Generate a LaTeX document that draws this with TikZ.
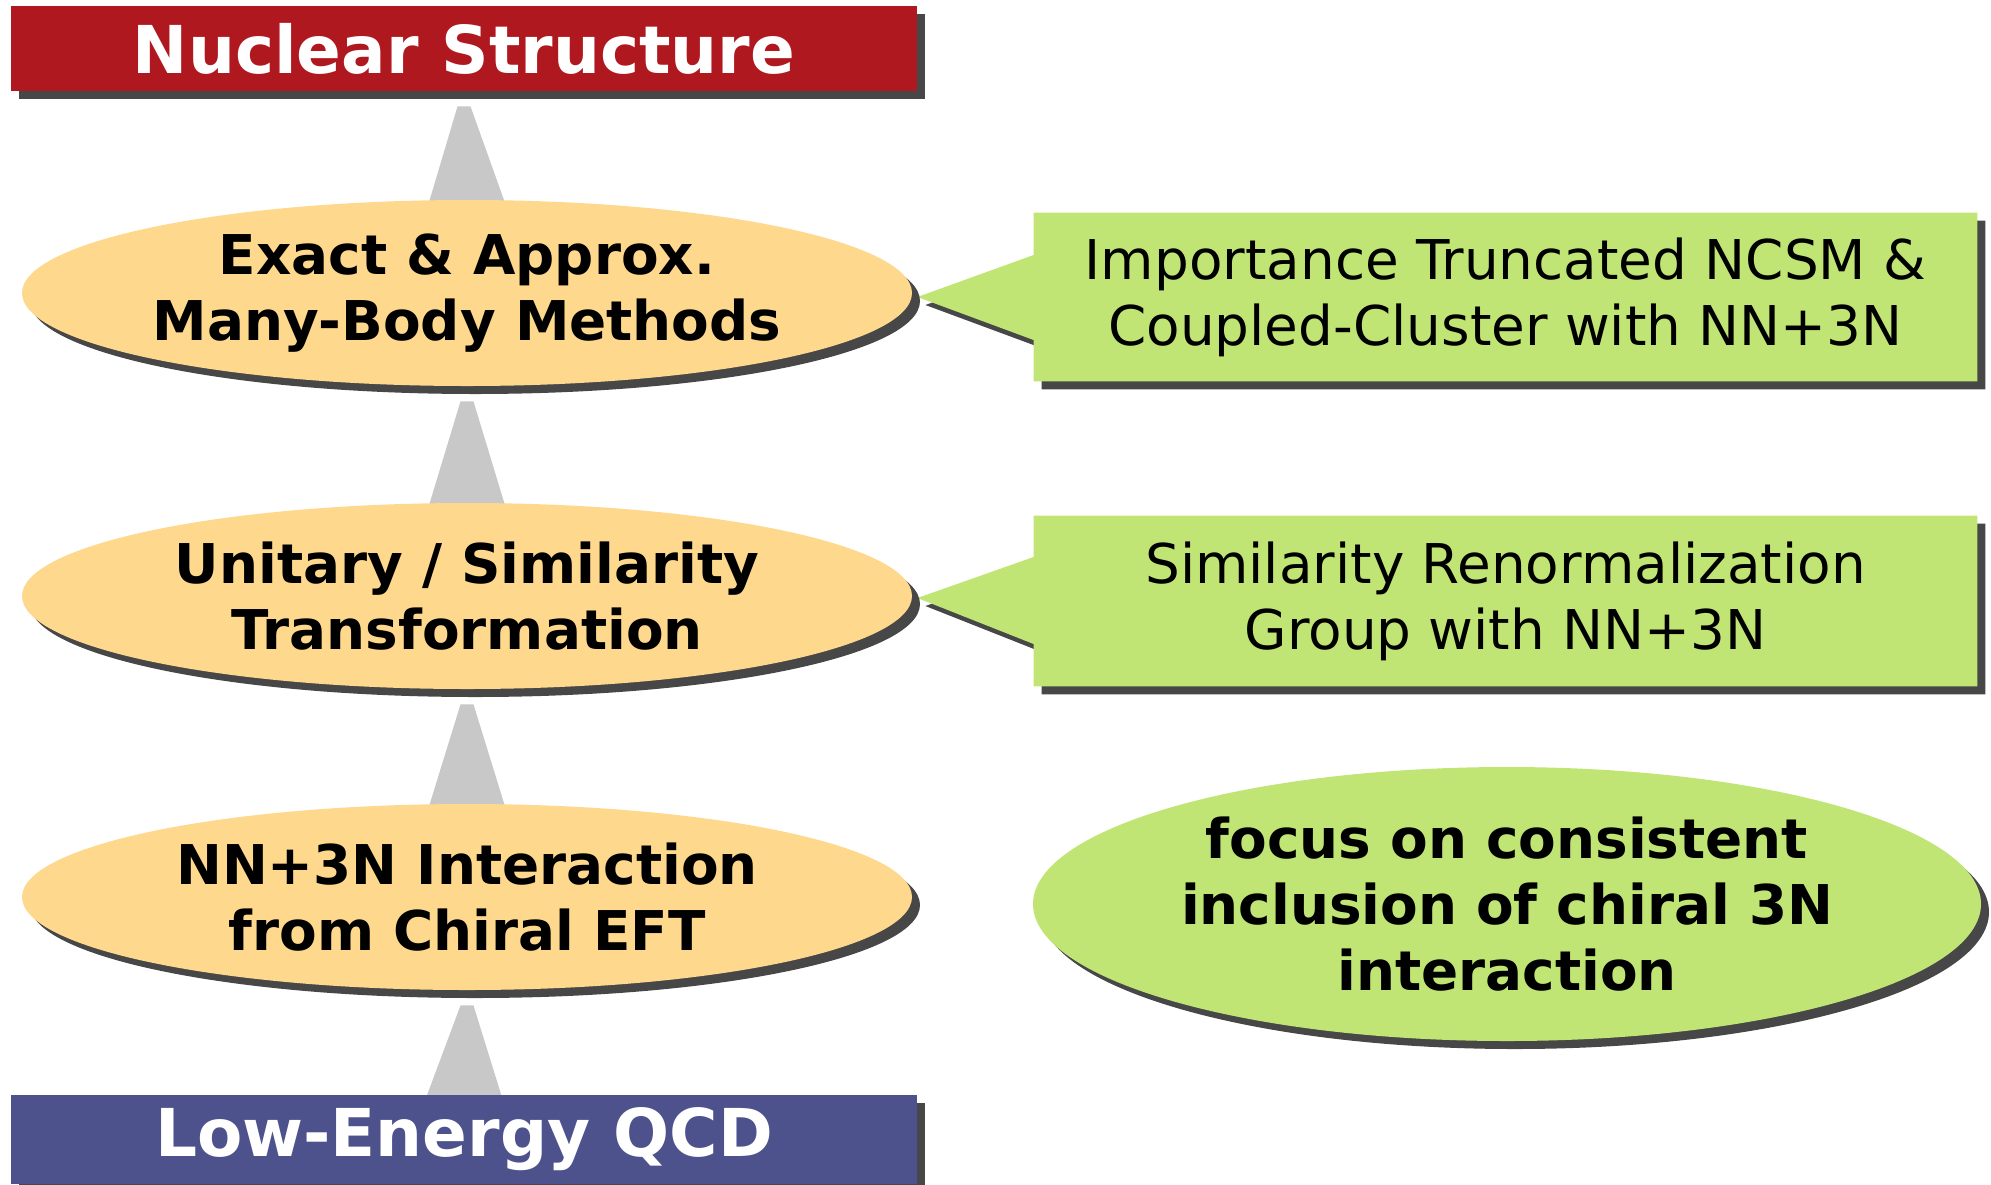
\documentclass[tikz,border=0pt]{standalone}
\usepackage{fontspec}
\setmainfont{DejaVu Sans}
\usetikzlibrary{shadows,calc,backgrounds,shapes.geometric}
\definecolor{nsred}{RGB}{176,24,32}
\definecolor{qcdblue}{RGB}{78,82,140}
\definecolor{lvlorange}{RGB}{253,216,141}
\definecolor{notegreen}{RGB}{192,229,117}
\definecolor{arrowgray}{RGB}{200,200,200}
\begin{document}
\begin{tikzpicture}[x=0.5pt,y=-0.5pt,
  shd/.style={drop shadow={shadow xshift=4pt,shadow yshift=-4pt,fill=black!72,opacity=1}},
  titlebox/.style={rectangle,minimum width=453pt,inner sep=0pt,text=white,
    font=\fontsize{33}{40}\selectfont\bfseries,shd},
  level/.style={ellipse,fill=lvlorange,minimum width=445pt,minimum height=93pt,inner sep=0pt,
    align=center,font=\fontsize{27.4}{33}\selectfont\bfseries,shd},
  notebox/.style={rectangle,minimum width=471.5pt,inner sep=0pt,align=center,
    font=\fontsize{27.4}{33}\selectfont},
  focus/.style={ellipse,fill=notegreen,minimum width=474pt,minimum height=137pt,inner sep=0pt,
    align=center,font=\fontsize{27.4}{33}\selectfont\bfseries,shd},
  uparrow/.style={fill=arrowgray}]
\useasboundingbox (0,0) rectangle (1991,1184);

\node[titlebox,fill=nsred,minimum height=42.5pt] (ns) at (464,48.5) {Nuclear Structure};
\node[level] (e1) at (467,293) {Exact \& Approx.\\Many-Body Methods};
\node[level] (e2) at (467,596) {Unitary / Similarity\\Transformation};
\node[level] (e3) at (467,897) {NN+3N Interaction\\from Chiral EFT};
\node[titlebox,fill=qcdblue,minimum height=44.5pt] (qcd) at (464,1139.5) {Low-Energy QCD};

\node[notebox,minimum height=84pt] (n1) at (1505.5,297) {Importance Truncated NCSM \&\\Coupled-Cluster with NN+3N};
\node[notebox,minimum height=85pt] (n2) at (1505.5,601) {Similarity Renormalization\\Group with NN+3N};
\node[focus] (f) at (1507,904) {focus on consistent\\inclusion of chiral 3N\\interaction};

\begin{scope}[on background layer]
  \foreach \lo/\up in {e1/ns,e2/e1,e3/e2,qcd/e3}{
    \fill[uparrow] ($(\lo.north)+(-39,6)$) -- ($(\up.south)+(-6.5,15)$)
      -- ($(\up.south)+(6.5,15)$) -- ($(\lo.north)+(39,6)$) -- cycle;
  }
  \fill[notegreen,shd] ($(e1.east)+(5,4)$) -- ($(n1.west)+(0,-42)$) -- (n1.north west)
    -- (n1.north east) -- (n1.south east) -- (n1.south west) -- ($(n1.west)+(0,43)$) -- cycle;
  \fill[notegreen,shd] ($(e2.east)+(5,2)$) -- ($(n2.west)+(0,-44)$) -- (n2.north west)
    -- (n2.north east) -- (n2.south east) -- (n2.south west) -- ($(n2.west)+(0,43)$) -- cycle;
\end{scope}
\end{tikzpicture}
\end{document}
